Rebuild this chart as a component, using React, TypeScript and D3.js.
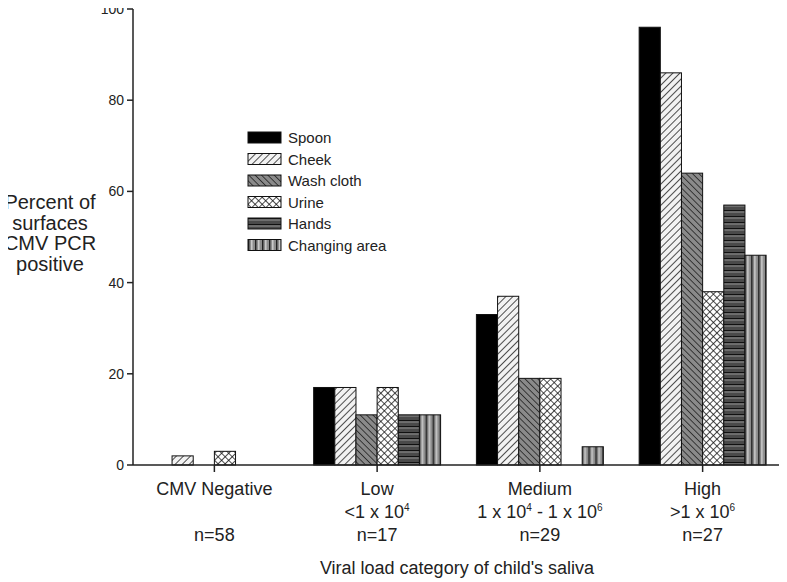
import React from "react";
import * as d3 from "d3";

const categories = ["CMV Negative", "Low", "Medium", "High"];
const rangeLabels = ["", "<1 x 10|4", "1 x 10|4 - 1 x 10|6", ">1 x 10|6"];
const sampleSizes = ["n=58", "n=17", "n=29", "n=27"];
const surfaces = ["Spoon", "Cheek", "Wash cloth", "Urine", "Hands", "Changing area"];

// percent positive per surface, one array per viral load category
const cmvNegative = [0, 2, 0, 3, 0, 0];
const lowLoad = [17, 17, 11, 17, 11, 11];
const mediumLoad = [33, 37, 19, 19, 0, 4];
const highLoad = [96, 86, 64, 38, 57, 46];
const values = [cmvNegative, lowLoad, mediumLoad, highLoad];

const yTicks = [0, 20, 40, 60, 80, 100];
const fills = ["#000", "url(#cheek)", "url(#wash)", "url(#urine)", "url(#hands)", "url(#changing)"];

const W = 787;
const H = 582;
const font = "'Liberation Sans', Arial, sans-serif";

const x = d3.scaleBand().domain(categories).range([133, 784]).paddingInner(0.22).paddingOuter(0.11);
const xs = d3.scaleBand().domain(surfaces).range([0, x.bandwidth()]);
const y = d3.scaleLinear().domain([0, 100]).range([465, 9]);

// "1 x 10|4" -> text with superscript exponents
const Sup = ({ s }: { s: string }) => {
  const parts = s.split(/\|(\d)/);
  return (
    <>
      {parts.map((p, i) =>
        i % 2 === 1 ? (
          <tspan key={i} dy={-7} fontSize={10}>{p}</tspan>
        ) : (
          <tspan key={i} dy={i > 0 ? 7 : 0}>{p}</tspan>
        )
      )}
    </>
  );
};

export default function App() {
  const center = (c: string) => (x(c) as number) + x.bandwidth() / 2;
  return (
    <svg width={W} height={H} style={{ display: "block", marginTop: -8, marginLeft: -8 }} fontFamily={font}>
      <defs>
        <pattern id="cheek" width={5} height={5} patternUnits="userSpaceOnUse" patternTransform="rotate(45)">
          <rect width={5} height={5} fill="#f2f2f2" />
          <line x1={0} y1={0} x2={0} y2={5} stroke="#222" strokeWidth={1.6} />
        </pattern>
        <pattern id="wash" width={4.5} height={4.5} patternUnits="userSpaceOnUse" patternTransform="rotate(-45)">
          <rect width={4.5} height={4.5} fill="#8a8a8a" />
          <line x1={0} y1={0} x2={0} y2={4.5} stroke="#222" strokeWidth={1.6} />
        </pattern>
        <pattern id="urine" width={5} height={5} patternUnits="userSpaceOnUse" patternTransform="rotate(45)">
          <rect width={5} height={5} fill="#fff" />
          <line x1={0} y1={0} x2={0} y2={5} stroke="#111" strokeWidth={1.5} />
          <line x1={0} y1={0} x2={5} y2={0} stroke="#111" strokeWidth={1.5} />
        </pattern>
        <pattern id="hands" width={6} height={6} patternUnits="userSpaceOnUse">
          <rect width={6} height={6} fill="#4a4a4a" />
          <line x1={0} y1={0.5} x2={6} y2={0.5} stroke="#111" strokeWidth={1.2} />
          <line x1={0} y1={2} x2={6} y2={2} stroke="#999" strokeWidth={0.9} />
        </pattern>
        <pattern id="changing" width={7} height={7} patternUnits="userSpaceOnUse">
          <rect width={7} height={7} fill="#8c8c8c" />
          <line x1={0.7} y1={0} x2={0.7} y2={7} stroke="#222" strokeWidth={1.4} />
          <line x1={3.8} y1={0} x2={3.8} y2={7} stroke="#d0d0d0" strokeWidth={1.4} />
        </pattern>
      </defs>

      {/* bars */}
      {categories.map((c, ci) => (
        <g key={c} transform={`translate(${x(c)},0)`}>
          {surfaces.map((s, si) => {
            const v = values[ci][si];
            if (v <= 0) return null;
            return (
              <rect
                key={s}
                x={xs(s)}
                y={y(v)}
                width={xs.bandwidth()}
                height={y(0) - y(v)}
                fill={fills[si]}
                stroke="#111"
                strokeWidth={1}
              />
            );
          })}
        </g>
      ))}

      {/* y axis */}
      <line x1={133} y1={y(100)} x2={133} y2={y(0)} stroke="#222" strokeWidth={1.5} />
      {yTicks.map((t) => (
        <g key={t}>
          <line x1={127} x2={133} y1={y(t)} y2={y(t)} stroke="#222" strokeWidth={1.5} />
          <text x={124} y={y(t)} dy="0.35em" textAnchor="end" fontSize={14} fill="#222">
            {t}
          </text>
        </g>
      ))}

      {/* x axis */}
      <line x1={133} y1={y(0)} x2={784} y2={y(0)} stroke="#222" strokeWidth={1.5} />
      {categories.map((c, i) => (
        <g key={c}>
          <line x1={center(c)} x2={center(c)} y1={y(0)} y2={y(0) + 7} stroke="#222" strokeWidth={1.5} />
          <text x={center(c)} y={495} textAnchor="middle" fontSize={18} fill="#222">{c}</text>
          <text x={center(c)} y={518} textAnchor="middle" fontSize={18} fill="#222">
            <Sup s={rangeLabels[i]} />
          </text>
          <text x={center(c)} y={541} textAnchor="middle" fontSize={18} fill="#222">{sampleSizes[i]}</text>
        </g>
      ))}

      <text x={457} y={574} textAnchor="middle" fontSize={18} fill="#222">
        Viral load category of child's saliva
      </text>

      {/* y title */}
      {["Percent of", "surfaces", "CMV PCR", "positive"].map((l, i) => (
        <text key={l} x={50} y={209 + i * 20.5} textAnchor="middle" fontSize={20} fill="#222">
          {l}
        </text>
      ))}

      {/* legend */}
      {surfaces.map((s, i) => (
        <g key={s} transform={`translate(248,${132 + i * 21.5})`}>
          <rect width={33} height={11} fill={fills[i]} stroke="#111" strokeWidth={1} />
          <text x={40} y={6} dy="0.35em" fontSize={15} fill="#222">{s}</text>
        </g>
      ))}
    </svg>
  );
}
